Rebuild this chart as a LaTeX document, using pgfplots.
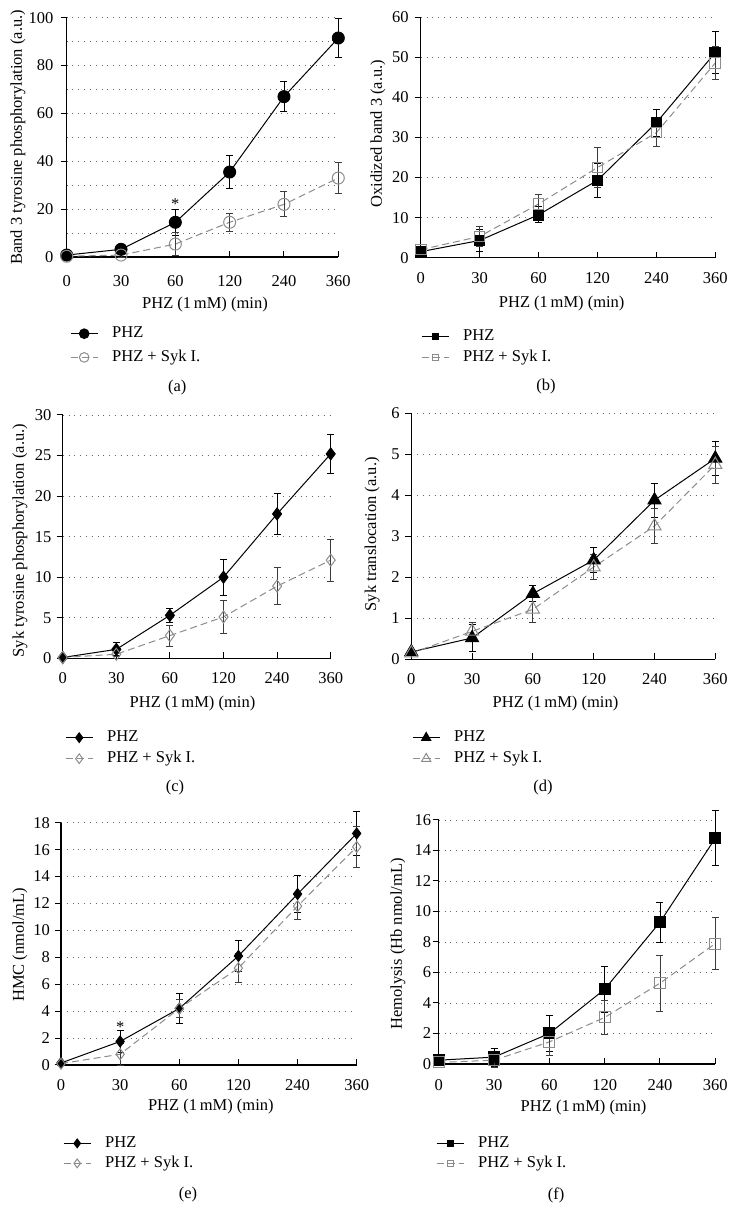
\documentclass[border=0pt]{standalone}
\usepackage{pgfplots}
\pgfplotsset{compat=1.18}
\usepackage{fontspec}
\setmainfont{Liberation Serif}
\definecolor{sykgray}{RGB}{140,140,140}
\definecolor{errgray}{RGB}{60,60,60}
\newcommand{\fsz}{\fontsize{16.5}{19.8}\selectfont}
\pgfplotsset{
  panel/.style={
    scale only axis, clip=false,
    axis lines=left, axis line style={-, line width=1.1pt, black},
    xmin=0, xmax=5, xtick={0,1,2,3,4,5}, xticklabels={0,30,60,120,240,360},
    xtick align=inside, ytick align=outside,
    major tick length=6pt, minor tick length=0pt,
    tick style={black, line width=1pt},
    ymin=0,
    ymajorgrids, grid style={black!60, line width=0.9pt, dash pattern=on 0.9pt off 4.9pt},
    /pgf/number format/assume math mode=true,
    font=\fsz, tick label style={font=\fsz},
    xticklabel style={anchor=base, inner sep=0pt},
    yticklabel style={anchor=east, inner sep=0pt},
    xlabel={PHZ (1\,mM) (min)},
    xlabel style={at={(axis description cs:0.5,0)}, anchor=center, font=\fsz},
    ylabel style={anchor=center, font=\fsz},
    legend style={draw=none, fill=none, inner sep=0pt, anchor=north west,
      at={(axis description cs:0,0)}, font=\fsz, nodes={inner sep=0pt, text height=12pt, text depth=4pt},
      column sep=14pt},
    legend cell align=left,
  },
  limg/.style={legend image code/.code={\draw[mark repeat=2,mark phase=2,every mark/.append style={scale=#1}] plot coordinates {(0pt,0pt) (13.5pt,0pt) (27pt,0pt)};}},
  phz/.style={black, line width=1pt, mark options={solid, fill=black, draw=black},
    /pgfplots/error bars/y dir=both, /pgfplots/error bars/y explicit,
    /pgfplots/error bars/error bar style={black, line width=0.9pt, solid},
    /pgfplots/error bars/error mark options={rotate=90, mark size=3.5pt, line width=0.9pt, black, solid}},
  syk/.style={sykgray, line width=1pt, dash pattern=on 7pt off 4pt, mark options={solid, sykgray, line width=1pt},
    /pgfplots/error bars/y dir=both, /pgfplots/error bars/y explicit,
    /pgfplots/error bars/error bar style={errgray, line width=0.9pt, solid},
    /pgfplots/error bars/error mark options={rotate=90, mark size=3.5pt, line width=0.9pt, errgray, solid}},
}
\begin{document}
\begin{tikzpicture}[x=1pt, y=1pt, font=\fsz]
\path[use as bounding box] (0pt,0pt) rectangle (737pt,1227pt);

% ---------------- (a)
\begin{axis}[panel, at={(66.7pt,970pt)}, anchor=south west, width=271.6pt, height=239.3pt,
  ymax=100, ytick={0,20,...,100}, minor ytick={10,30,50,70,90}, yminorgrids,
  xticklabel style={yshift=-29.5pt}, yticklabel style={xshift=-7pt},
  xlabel style={xshift=2.5pt, yshift=-48pt},
  ylabel={Band 3 tyrosine phosphorylation (a.u.)}, ylabel style={at={(axis description cs:-0.1793,0.5)}},
  legend style={xshift=3.3pt, yshift=-68.5pt, row sep=7.7pt}, limg=0.8]
\addplot+[phz, mark=*, mark size=6pt] coordinates {
 (0,0.8) +- (0,0.5) (1,3.2) +- (0,1) (2,14.5) +- (0,5.5) (3,35.5) +- (0,7) (4,67) +- (0,6.3) (5,91.5) +- (0,8)};
\addplot+[syk, mark=o, mark size=6pt] coordinates {
 (0,0.3) +- (0,0.3) (1,0.8) +- (0,0.8) (2,5.4) +- (0,4.7) (3,14.5) +- (0,3.7) (4,22) +- (0,5.2) (5,33) +- (0,6.3)};
\node at (axis cs:2,22) {*};
\legend{PHZ, PHZ + Syk I.}
\end{axis}

% ---------------- (b)
\begin{axis}[panel, at={(420.7pt,969.3pt)}, anchor=south west, width=294.6pt, height=240.4pt,
  ymax=60, ytick={0,10,...,60},
  xticklabel style={yshift=-26pt}, yticklabel style={xshift=-6pt},
  xlabel style={xshift=-6.3pt, yshift=-45.6pt},
  ylabel={Oxidized band 3 (a.u.)}, ylabel style={at={(axis description cs:-0.1449,0.5158)}},
  legend style={xshift=0.3pt, yshift=-70.8pt, row sep=5pt}, limg=0.55]
\addplot+[phz, mark=square*, mark size=5.3pt] coordinates {
 (0,1.5) +- (0,0.5) (1,4.3) +- (0,2.7) (2,10.7) +- (0,2) (3,19.3) +- (0,4.2) (4,33.7) +- (0,3.4) (5,51.2) +- (0,5.3)};
\addplot+[syk, mark=square, mark size=5.3pt] coordinates {
 (0,2.0) +- (0,0.5) (1,5.3) +- (0,2.6) (2,13.4) +- (0,2.3) (3,22.5) +- (0,4.9) (4,31.2) +- (0,3.4) (5,48.6) +- (0,4.0)};
\legend{PHZ, PHZ + Syk I.}
\end{axis}

% ---------------- (c)
\begin{axis}[panel, at={(62.7pt,568.7pt)}, anchor=south west, width=268pt, height=243.3pt,
  ymax=30, ytick={0,5,...,30},
  xticklabel style={yshift=-25pt}, yticklabel style={xshift=-5pt},
  xlabel style={xshift=-4.2pt, yshift=-45pt},
  ylabel={Syk tyrosine phosphorylation (a.u.)}, ylabel style={at={(axis description cs:-0.1593,0.4836)}},
  legend style={xshift=2.3pt, yshift=-71.2pt, row sep=5pt}, limg=0.8]
\addplot+[phz, mark=diamond*, mark size=6pt] coordinates {
 (0,0.1) +- (0,0.2) (1,1.1) +- (0,0.8) (2,5.3) +- (0,0.9) (3,10) +- (0,2.2) (4,17.8) +- (0,2.5) (5,25.2) +- (0,2.4)};
\addplot+[syk, mark=diamond, mark size=6pt] coordinates {
 (0,0.1) +- (0,0.1) (1,0.5) +- (0,0.3) (2,2.8) +- (0,1.3) (3,5.1) +- (0,2.0) (4,8.9) +- (0,2.3) (5,12.1) +- (0,2.6)};
\legend{PHZ, PHZ + Syk I.}
\end{axis}

% ---------------- (d)
\begin{axis}[panel, at={(411.3pt,567.7pt)}, anchor=south west, width=304pt, height=246pt,
  ymax=6, ytick={0,1,...,6},
  xticklabel style={yshift=-25pt}, yticklabel style={xshift=-5.6pt},
  xlabel style={xshift=-7.8pt, yshift=-44pt},
  ylabel={Syk translocation (a.u.)}, ylabel style={at={(axis description cs:-0.1283,0.508)}},
  legend style={xshift=0.7pt, yshift=-70.2pt, row sep=5pt}, limg=0.7]
\addplot+[phz, mark=triangle*, mark size=7.5pt] coordinates {
 (0,0.18) +- (0,0.05) (1,0.52) +- (0,0.32) (2,1.6) +- (0,0.2) (3,2.42) +- (0,0.3) (4,3.88) +- (0,0.42) (5,4.9) +- (0,0.42)};
\addplot+[syk, mark=triangle, mark size=7.5pt] coordinates {
 (0,0.15) +- (0,0.05) (1,0.68) +- (0,0.22) (2,1.22) +- (0,0.32) (3,2.25) +- (0,0.3) (4,3.25) +- (0,0.42) (5,4.75) +- (0,0.45)};
\legend{PHZ, PHZ + Syk I.}
\end{axis}

% ---------------- (e)
\begin{axis}[panel, at={(61pt,162pt)}, anchor=south west, width=295.7pt, height=242.3pt,
  ymax=18, ytick={0,2,...,18},
  xticklabel style={yshift=-26pt}, yticklabel style={xshift=-5pt},
  xlabel style={xshift=2pt, yshift=-41.7pt},
  ylabel={HMC (nmol/mL)}, ylabel style={at={(axis description cs:-0.1387,0.4959)}},
  legend style={xshift=2pt, yshift=-70.2pt, row sep=4pt}, limg=0.8]
\addplot+[phz, mark=diamond*, mark size=5.5pt] coordinates {
 (0,0.15) +- (0,0.1) (1,1.75) +- (0,0.85) (2,4.2) +- (0,1.1) (3,8.1) +- (0,1.15) (4,12.7) +- (0,1.4) (5,17.2) +- (0,1.6)};
\addplot+[syk, mark=diamond, mark size=5.5pt] coordinates {
 (0,0.1) +- (0,0.1) (1,0.8) +- (0,0.8) (2,4.2) +- (0,0.7) (3,7.2) +- (0,1.1) (4,11.8) +- (0,1.0) (5,16.2) +- (0,1.5)};
\node at (axis cs:1,2.8) {*};
\legend{PHZ, PHZ + Syk I.}
\end{axis}

% ---------------- (f)
\begin{axis}[panel, at={(438.7pt,163pt)}, anchor=south west, width=276.6pt, height=244pt,
  ymax=16, ytick={0,2,...,16},
  xticklabel style={yshift=-26.5pt}, yticklabel style={xshift=-1.4pt},
  xlabel style={xshift=6.5pt, yshift=-43.3pt},
  ylabel={Hemolysis (Hb nmol/mL)}, ylabel style={at={(axis description cs:-0.1471,0.4918)}},
  legend style={xshift=-2.7pt, yshift=-71.2pt, row sep=4pt}, limg=0.55]
\addplot+[phz, mark=square*, mark size=5.5pt] coordinates {
 (0,0.25) +- (0,0.1) (1,0.45) +- (0,0.6) (2,2.0) +- (0,1.2) (3,4.9) +- (0,1.5) (4,9.3) +- (0,1.3) (5,14.8) +- (0,1.8)};
\addplot+[syk, mark=square, mark size=5.5pt] coordinates {
 (0,0.1) +- (0,0.1) (1,0.25) +- (0,0.5) (2,1.45) +- (0,0.9) (3,3.05) +- (0,1.1) (4,5.3) +- (0,1.85) (5,7.9) +- (0,1.7)};
\legend{PHZ, PHZ + Syk I.}
\end{axis}

\node at (177.3pt,839.7pt) {(a)};
\node at (546pt,840pt) {(b)};
\node at (175pt,439pt) {(c)};
\node at (543pt,439pt) {(d)};
\node at (188pt,32pt) {(e)};
\node at (556pt,32pt) {(f)};
\end{tikzpicture}
\end{document}
